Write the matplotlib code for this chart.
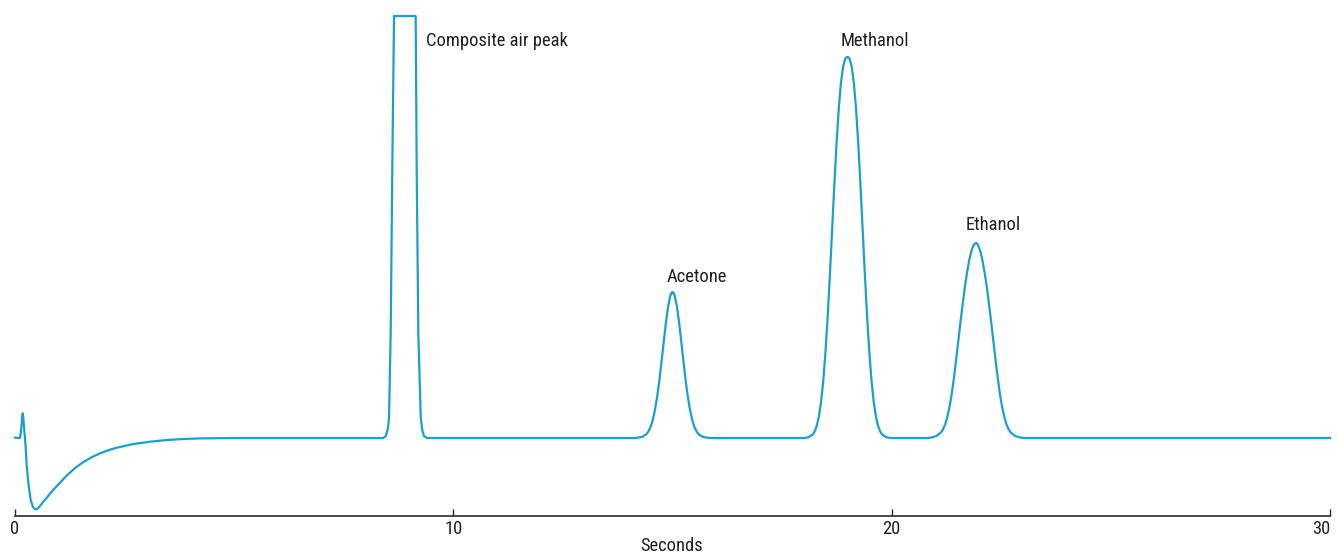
import matplotlib
matplotlib.use("Agg")
import matplotlib.pyplot as plt

# ---- data (time in seconds, detector signal in arbitrary units; baseline = 0)
start_time = [0.00, 0.114, 0.14, 0.16, 0.176, 0.19, 0.21, 0.228, 0.25, 0.267, 0.31, 0.358, 0.41,
              0.445, 0.479, 0.52, 0.57, 0.64, 0.72, 0.80, 0.90, 1.00, 1.18, 1.37, 1.56, 1.75,
              1.94, 2.13, 2.32, 2.70, 3.08, 3.46, 3.84, 4.22, 5.00, 8.00]
start_signal = [0.3, 0.0, 8.0, 20.0, 24.7, 20.0, 8.0, 0.0, -14.0, -28.0, -47.0, -62.0, -69.0,
                -71.0, -71.5, -70.5, -68.0, -64.0, -60.0, -55.5, -50.5, -46.0, -37.5, -30.0, -24.0, -19.2,
                -15.3, -12.2, -9.7, -6.0, -3.7, -2.0, -1.0, -0.4, 0.0, 0.0]

air_time = [8.40, 8.46, 8.51, 8.533, 8.571, 8.608, 8.647, 9.141, 9.164, 9.201, 9.256, 9.29, 9.33, 9.40]
air_signal = [0.0, 2.0, 10.0, 21.0, 105.0, 271.0, 422.0, 422.0, 271.0, 105.0, 21.0, 8.0, 2.0, 0.0]

acetone_time = [14.15, 14.30, 14.40, 14.45, 14.50, 14.55, 14.60, 14.65, 14.70, 14.75, 14.80, 14.85,
                14.90, 14.95, 14.975, 15.00, 15.025, 15.05, 15.10, 15.15, 15.20, 15.25, 15.30,
                15.35, 15.40, 15.45, 15.50, 15.55, 15.60, 15.70, 15.85]
acetone_signal = [0.0, 1.0, 3.6, 6.5, 11.0, 18.0, 28.0, 41.2, 57.6, 76.5, 96.6, 115.7,
                  131.7, 142.3, 145.1, 146.0, 145.1, 142.3, 131.7, 115.7, 96.6, 76.5, 57.6,
                  41.2, 28.0, 18.0, 11.0, 6.5, 3.6, 1.0, 0.0]

methanol_time = [18.00, 18.09, 18.19, 18.24, 18.29, 18.34, 18.39, 18.44, 18.49, 18.54, 18.59, 18.64,
                 18.69, 18.74, 18.79, 18.84, 18.89, 18.94, 18.965, 18.99, 19.015, 19.04, 19.09,
                 19.14, 19.19, 19.24, 19.29, 19.34, 19.39, 19.44, 19.49, 19.54, 19.59, 19.64,
                 19.69, 19.74, 19.79, 19.89, 19.99]
methanol_signal = [0.0, 0.6, 3.1, 6.3, 12.0, 21.6, 36.3, 57.5, 85.9, 121.3, 162.4, 206.8,
                   251.5, 292.8, 327.7, 354.0, 371.0, 379.2, 380.6, 381.0, 380.6, 379.2, 371.0,
                   354.0, 327.7, 292.8, 251.5, 206.8, 162.4, 121.3, 85.9, 57.5, 36.3, 21.6,
                   12.0, 6.3, 3.1, 0.6, 0.0]

ethanol_time = [20.82, 20.92, 21.02, 21.12, 21.17, 21.22, 21.27, 21.32, 21.37, 21.42, 21.47, 21.52,
                21.57, 21.62, 21.67, 21.72, 21.77, 21.82, 21.87, 21.90, 21.924, 21.95, 21.97,
                22.02, 22.07, 22.12, 22.17, 22.22, 22.27, 22.32, 22.37, 22.42, 22.47, 22.52,
                22.57, 22.62, 22.67, 22.72, 22.82, 22.92, 23.02]
ethanol_signal = [0.0, 0.6, 2.0, 5.3, 8.5, 13.5, 21.0, 31.0, 44.0, 60.0, 78.0, 97.0,
                  116.0, 134.0, 151.1, 165.6, 177.9, 187.2, 193.0, 194.5, 195.0, 194.5, 193.0,
                  187.2, 177.9, 165.6, 151.1, 134.0, 116.0, 97.0, 78.0, 60.0, 44.0, 31.0,
                  21.0, 13.5, 8.5, 5.3, 2.0, 0.6, 0.0]

end_time = [30.0]
end_signal = [0.0]

peak_labels = ["Composite air peak", "Acetone", "Methanol", "Ethanol"]
x_ticks = [0, 10, 20, 30]
x_label = "Seconds"

time = start_time + air_time + acetone_time + methanol_time + ethanol_time + end_time
signal = start_signal + air_signal + acetone_signal + methanol_signal + ethanol_signal + end_signal

# ---- styling
plt.rcParams['font.family'] = ['Roboto Condensed', 'Liberation Sans Narrow', 'Roboto', 'DejaVu Sans']
line_color = '#1a9fd4'
text_color = '#231f20'
axis_color = '#2b2b2b'
fs = 13.3

W, H = 1338, 554
fig = plt.figure(figsize=(W / 100, H / 100), dpi=100)
ax = fig.add_axes([15 / W, 38 / H, 1315 / W, 516 / H])
ax.plot(time, signal, color=line_color, lw=1.6, solid_joinstyle='round', clip_on=False)

ax.set_xlim(0, 30)
ax.set_ylim(-78, 438)

for s in ['top', 'right', 'left']:
    ax.spines[s].set_visible(False)
ax.spines['bottom'].set_color(axis_color)
ax.spines['bottom'].set_linewidth(1.2)
ax.set_yticks([])
ax.set_xticks(x_ticks)
ax.set_xticklabels([str(v) for v in x_ticks])
ax.tick_params(axis='x', direction='in', length=5, width=1.0, color=axis_color,
               labelsize=fs, labelcolor=text_color, pad=3)
ax.get_xticklabels()[-1].set_horizontalalignment('right')

fig.text(672 / W, 3 / H, x_label, fontsize=fs, color=text_color, ha='center', va='baseline')

label_pos = [(9.377, 392, 'left'), (15.547, 156.5, 'center'), (19.62, 391.5, 'center'), (22.32, 207.5, 'center')]
for lab, (tx, ty, ha) in zip(peak_labels, label_pos):
    ax.text(tx, ty, lab, fontsize=fs, color=text_color, ha=ha, va='baseline')

fig.savefig("out.png", dpi=100)
